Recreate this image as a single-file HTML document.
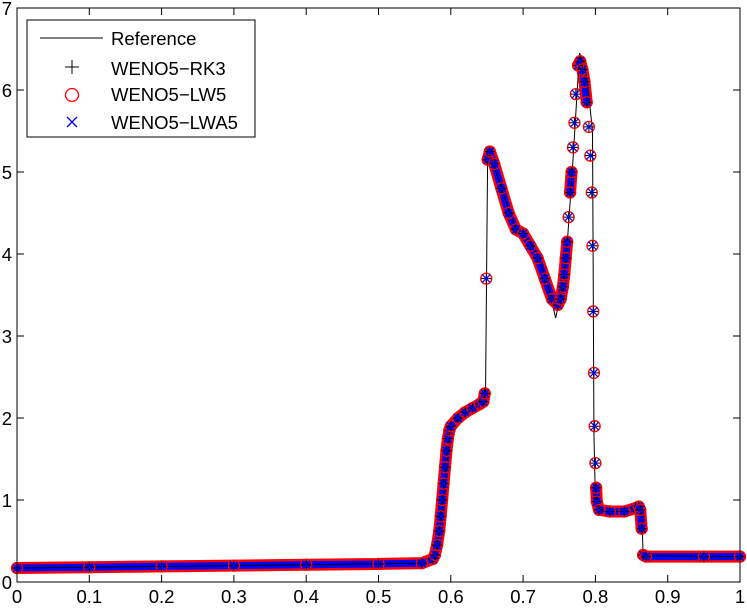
<!DOCTYPE html>
<html><head><meta charset="utf-8"><style>
body{margin:0;background:#fff;font-family:"Liberation Sans",sans-serif}
svg text{font-family:"Liberation Sans",sans-serif;font-size:18.5px}
</style></head><body>
<svg id="c" width="747" height="606"></svg>
<script>
const xTicks=[0,0.1,0.2,0.3,0.4,0.5,0.6,0.7,0.8,0.9,1];
const xTickLabels=["0","0.1","0.2","0.3","0.4","0.5","0.6","0.7","0.8","0.9","1"];
const yTicks=[0,1,2,3,4,5,6,7];
const refX=[0,0.2,0.4,0.57,0.58,0.59,0.6,0.62,0.645,0.648,0.651,0.655,0.67,0.69,0.7,0.72,0.735,0.745,0.752,0.76,0.768,0.778,0.785,0.79,0.796,0.798,0.8,0.81,0.855,0.862,0.864,0.866,1];
const refY=[0.17,0.19,0.21,0.23,0.3,1.0,1.9,2.07,2.2,2.25,5.25,5.2,4.8,4.3,4.25,4.0,3.6,3.22,3.5,4.0,5.0,6.45,6.3,6.0,5.5,1.8,1.0,0.86,0.86,0.92,0.9,0.32,0.31];
const numX=[0,0.1,0.2,0.3,0.4,0.5,0.56,0.575,0.578,0.581,0.584,0.586,0.588,0.59,0.592,0.594,0.596,0.598,0.6,0.61,0.62,0.63,0.64,0.645,0.647,0.649,0.651,0.654,0.66,0.67,0.68,0.69,0.7,0.71,0.72,0.73,0.74,0.748,0.752,0.755,0.757,0.759,0.761,0.763,0.765,0.767,0.769,0.771,0.773,0.776,0.779,0.782,0.785,0.788,0.791,0.793,0.795,0.796,0.797,0.798,0.799,0.8,0.801,0.802,0.805,0.82,0.84,0.855,0.86,0.862,0.864,0.866,0.87,0.95,1];
const numY=[0.17,0.18,0.19,0.2,0.21,0.22,0.23,0.28,0.33,0.45,0.62,0.8,1.0,1.2,1.4,1.6,1.75,1.85,1.9,2.0,2.07,2.12,2.17,2.2,2.3,3.7,5.15,5.25,5.1,4.8,4.5,4.3,4.25,4.1,3.95,3.7,3.45,3.38,3.45,3.6,3.75,3.95,4.15,4.45,4.75,5.0,5.3,5.6,5.95,6.3,6.35,6.25,6.1,5.85,5.55,5.2,4.75,4.1,3.3,2.55,1.9,1.45,1.15,0.98,0.88,0.86,0.86,0.9,0.92,0.88,0.65,0.33,0.31,0.31,0.31];
const svg=document.getElementById('c');const NS='http://www.w3.org/2000/svg';
const L=17,R=740,T=8,B=582;
const sx=v=>L+(R-L)*v, sy=v=>B-(B-T)*v/7;
function el(t,a,p){const e=document.createElementNS(NS,t);for(const k in a)e.setAttribute(k,a[k]);(p||svg).appendChild(e);return e;}
let d='';
for(let i=1;i<numX.length;i++){
 const x0=sx(numX[i-1]),y0=sy(numY[i-1]),x1=sx(numX[i]),y1=sy(numY[i]);
 if(Math.abs(y1-y0)<22||Math.abs(x1-x0)>5) d+=`M${x0} ${y0}L${x1} ${y1}`;
}
let b1=el('path',{d,fill:'none',stroke:'#f00','stroke-width':12,'stroke-linejoin':'round','stroke-linecap':'round'});

let b2=el('path',{d,fill:'none',stroke:'#00f','stroke-width':7,'stroke-linejoin':'round','stroke-linecap':'round'});

const rl=el('polyline',{points:refX.map((x,i)=>sx(x)+','+sy(refY[i])).join(' '),fill:'none',stroke:'#000','stroke-width':1});

numX.forEach((x,i)=>{const cx=sx(x),cy=sy(numY[i]);
 const c=el('circle',{cx,cy,r:5.5,fill:'none',stroke:'#f00','stroke-width':1.3});
 
 const p=el('path',{d:`M${cx-5} ${cy}H${cx+5}M${cx} ${cy-5}V${cy+5}`,stroke:'#000','stroke-width':1});
 
 const q=el('path',{d:`M${cx-4} ${cy-4}L${cx+4} ${cy+4}M${cx-4} ${cy+4}L${cx+4} ${cy-4}`,stroke:'#00f','stroke-width':1.2});
 
});
const ax=el('rect',{x:L,y:T,width:R-L,height:B-T,fill:'none',stroke:'#000','stroke-width':1});

xTicks.forEach((v,i)=>{const x=sx(v);
 el('path',{d:`M${x} ${B}V${B-7}M${x} ${T}V${T+7}`,stroke:'#000'});
 const t=el('text',{x,y:B+21,'text-anchor':'middle'});t.textContent=xTickLabels[i];
 });
yTicks.forEach(v=>{const y=sy(v);
 el('path',{d:`M${L} ${y}H${L+7}M${R} ${y}H${R-7}`,stroke:'#000'});
 const t=el('text',{x:L-5,y:y+7,'text-anchor':'end'});t.textContent=String(v);
 });
const g=el('g',{});
el('rect',{x:27,y:20,width:228,height:117,fill:'#fff',stroke:'#000'},g);
el('path',{d:'M40 38H103',stroke:'#000'},g);
el('path',{d:'M65 67H79M72 60V74',stroke:'#000'},g);
el('circle',{cx:72,cy:95,r:6.5,fill:'none',stroke:'#f00','stroke-width':1.3},g);
el('path',{d:'M67 117L77 127M67 127L77 117',stroke:'#00f','stroke-width':1.3},g);
[['Reference',45],['WENO5\u2212RK3',75],['WENO5\u2212LW5',101],['WENO5\u2212LWA5',129]].forEach(([s,y])=>{
 const t=el('text',{x:111,y:y},g);t.textContent=s;});
</script>
</body></html>
